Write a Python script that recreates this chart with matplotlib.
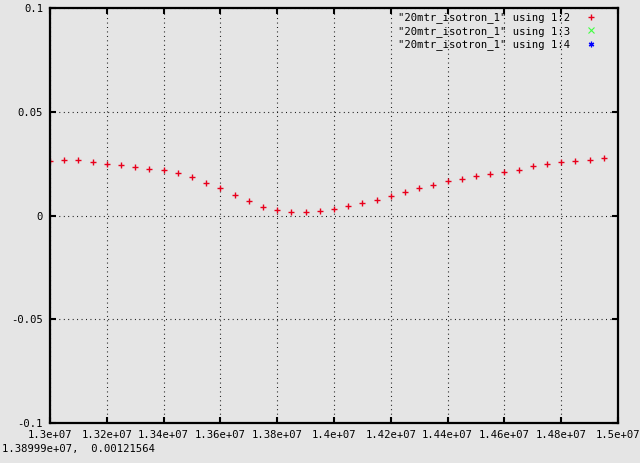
import matplotlib
matplotlib.use("Agg")
import matplotlib.pyplot as plt
from matplotlib.ticker import FixedLocator, FixedFormatter

# Data
freq = [13000000, 13050000, 13100000, 13150000, 13200000, 13250000, 13300000, 13350000,
        13400000, 13450000, 13500000, 13550000, 13600000, 13650000, 13700000, 13750000,
        13800000, 13850000, 13900000, 13950000, 14000000, 14050000, 14100000, 14150000,
        14200000, 14250000, 14300000, 14350000, 14400000, 14450000, 14500000, 14550000,
        14600000, 14650000, 14700000, 14750000, 14800000, 14850000, 14900000, 14950000]
col2 = [0.0264, 0.0267, 0.0267, 0.0257, 0.0248, 0.0244, 0.0235, 0.0224,
        0.0219, 0.0206, 0.0185, 0.0158, 0.0132, 0.0100, 0.0071, 0.0042,
        0.0026, 0.0016, 0.0016, 0.0023, 0.0031, 0.0045, 0.0061, 0.0074,
        0.0093, 0.0113, 0.0132, 0.0147, 0.0166, 0.0175, 0.0190, 0.0201,
        0.0209, 0.0219, 0.0240, 0.0248, 0.0257, 0.0262, 0.0267, 0.0277]
col3 = []  # not visible in plotted range
col4 = []  # not visible in plotted range

labels = ['"20mtr_isotron_1" using 1:2',
          '"20mtr_isotron_1" using 1:3',
          '"20mtr_isotron_1" using 1:4']
xticks = [1.30e7, 1.32e7, 1.34e7, 1.36e7, 1.38e7, 1.40e7, 1.42e7, 1.44e7, 1.46e7, 1.48e7, 1.50e7]
xticklabels = ["1.3e+07", "1.32e+07", "1.34e+07", "1.36e+07", "1.38e+07", "1.4e+07",
               "1.42e+07", "1.44e+07", "1.46e+07", "1.48e+07", "1.5e+07"]
yticks = [-0.1, -0.05, 0, 0.05, 0.1]
yticklabels = ["-0.1", "-0.05", "0", "0.05", "0.1"]
status_text = "1.38999e+07,  0.00121564"

bg = "#e5e5e5"
mono = ["DejaVu Sans Mono"]
fs = 7.6

fig = plt.figure(figsize=(6.40, 4.63), dpi=100, facecolor=bg)
ax = fig.add_axes([50/640, 1 - 423/463, 568/640, 415/463])
ax.set_facecolor(bg)

ax.plot(freq, col2, linestyle="none", marker="+", color="#e8001c", markersize=4.2,
        markeredgewidth=1.0, label=labels[0])
ax.plot(col3, col3, linestyle="none", marker="x", color="#40ff40", markersize=4,
        markeredgewidth=0.8, label=labels[1])
ax.plot(col4, col4, linestyle="none", marker=(6, 2, 0), color="#0000ff", markersize=4,
        markeredgewidth=0.9, label=labels[2])

ax.set_xlim(1.3e7, 1.5e7)
ax.set_ylim(-0.1, 0.1)
ax.xaxis.set_major_locator(FixedLocator(xticks))
ax.xaxis.set_major_formatter(FixedFormatter(xticklabels))
ax.yaxis.set_major_locator(FixedLocator(yticks))
ax.yaxis.set_major_formatter(FixedFormatter(yticklabels))

ax.tick_params(direction="in", length=4, width=1.5, top=True, right=True,
               labelsize=fs, pad=5, colors="black")
for lab in ax.get_xticklabels() + ax.get_yticklabels():
    lab.set_family(mono)
for s in ax.spines.values():
    s.set_linewidth(1.6)
    s.set_color("black")

ax.grid(True, color="black", linestyle=(0, (0.8, 3.2)), linewidth=0.8)
ax.set_axisbelow(True)

leg = ax.legend(loc="upper right", frameon=False, markerfirst=False,
                prop={"family": mono, "size": fs}, handlelength=1.0,
                handletextpad=1.5, labelspacing=0.25, borderaxespad=0.0,
                bbox_to_anchor=(0.969, 1.0))

fig.text(2/640, 1 - 449/463, status_text, family=mono, size=fs, va="center", ha="left")

fig.savefig("out.png", dpi=100, facecolor=bg)
